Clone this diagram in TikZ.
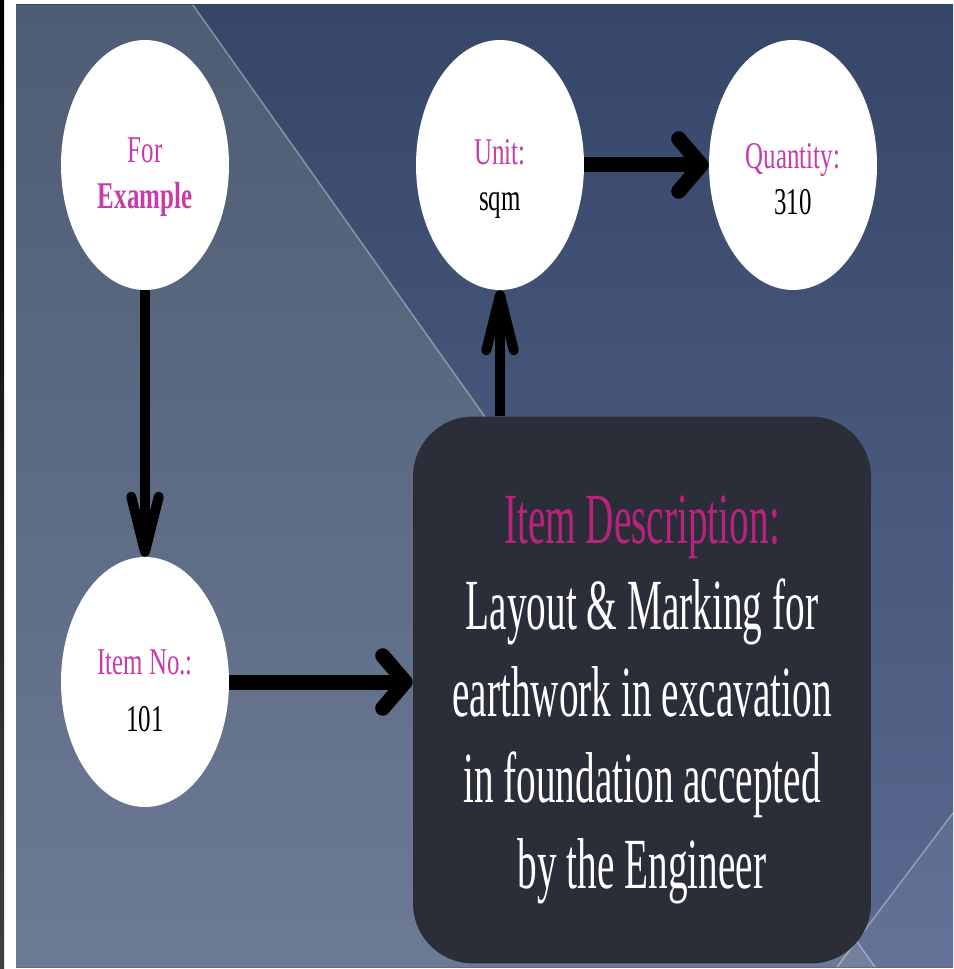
\documentclass[tikz,border=0pt]{standalone}
\usepackage{fontspec}
\setmainfont{Liberation Serif}
\newfontfamily\bubfont{Liberation Serif}[FakeStretch=0.66]
\newfontfamily\descfont{Liberation Serif}[FakeStretch=0.545]
\usetikzlibrary{shapes.geometric,arrows.meta}
\definecolor{pinktxt}{RGB}{200,60,170}
\definecolor{desctitle}{RGB}{185,35,125}
\definecolor{boxfill}{RGB}{43,46,56}
\definecolor{bgtop}{RGB}{54,70,104}
\definecolor{bgbot}{RGB}{90,106,144}
\definecolor{lefttop}{RGB}{78,93,115}
\definecolor{leftbot}{RGB}{108,122,150}
\begin{document}
\begin{tikzpicture}[x=0.02cm, y=-0.02cm,
        bub/.style={ellipse, fill=white, minimum width=3.36cm, minimum height=5cm, inner sep=0pt,
                    align=center, font=\bubfont\fontsize{21.5}{26}\selectfont},
        dbox/.style={rectangle, rounded corners=1.2cm, fill=boxfill, minimum width=9.16cm,
                     minimum height=10.94cm, align=center, text=white,
                     font=\descfont\fontsize{41}{49}\selectfont},
        ha/.style={-{Straight Barb[length=0.45cm, width=1.05cm, round]}, line width=0.3cm},
        va/.style={-{Straight Barb[length=1.1cm, width=0.55cm, round]}, line width=0.2cm}
    ]
    \useasboundingbox (0,0) rectangle (953,969);
    % background
    \fill[white] (0,0) rectangle (953,969);
    \shade[top color=black, bottom color=black!75] (0,0) rectangle (4,969);
    \shade[top color=bgtop, bottom color=bgbot] (16,5) rectangle (953,967);
    \shade[top color=lefttop, bottom color=leftbot] (16,5) -- (193,5) -- (875,967) -- (16,967) -- cycle;
    \fill[white, opacity=0.06] (953,813) -- (953,967) -- (837,967) -- cycle;
    \draw[white, opacity=0.35, line width=0.03cm] (193,5) -- (875,967);
    \draw[white, opacity=0.35, line width=0.03cm] (953,813) -- (837,967);

    \node[bub]  (ex)   at (145,165) {\rule{0pt}{28pt}\textcolor{pinktxt}{For}\\\textcolor{pinktxt}{\textbf{Example}}};
    \node[bub]  (unit) at (500,165) {\rule{0pt}{30pt}\textcolor{pinktxt}{Unit:}\\sqm};
    \node[bub]  (qty)  at (793,165) {\rule{0pt}{30pt}\textcolor{pinktxt}{Quantity:}\\310};
    \node[bub]  (item) at (145,682) {\rule{0pt}{24pt}\textcolor{pinktxt}{Item No.:}\\[6pt]101};
    \node[dbox] (desc) at (642,690) {\rule{0pt}{38.5pt}\textcolor{desctitle}{Item Description:}\\
        Layout \& Marking for\\earthwork in excavation\\in foundation accepted\\by the Engineer};

    \draw[va] (ex) -- (item);
    \draw[ha] (unit) -- (qty);
    \draw[ha] (item.east) -- (item.east -| desc.west);
    \draw[va] (desc.north -| unit.south) -- (unit.south);
\end{tikzpicture}
\end{document}
